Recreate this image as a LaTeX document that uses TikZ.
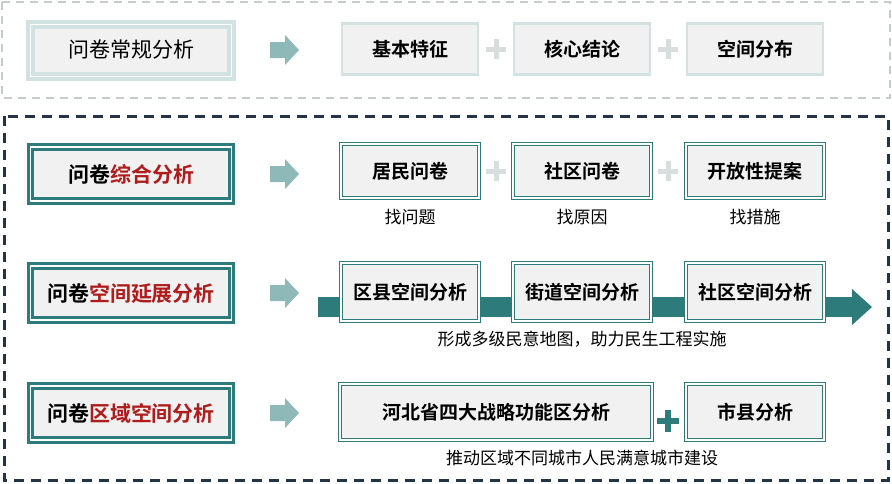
\documentclass[tikz,border=0pt]{standalone}
\usepackage{fontspec}
\setmainfont{Noto Sans CJK SC}
\newfontfamily\cjkb{Noto Sans CJK SC Bold}
\definecolor{teal1}{HTML}{2E7B7B}
\definecolor{lteal}{HTML}{D2E2E1}
\definecolor{boxg}{HTML}{F1F1F1}
\definecolor{navy}{HTML}{243447}
\definecolor{dred}{HTML}{B01C1C}
\definecolor{arrc}{HTML}{8FB8B8}
\definecolor{plusg}{HTML}{D8DEDE}
\begin{document}
\begin{tikzpicture}[x=1pt,y=-1pt,
  lbox/.style={draw=lteal,line width=4pt,fill=boxg,minimum height=52pt,font=\fontsize{21}{21}\selectfont,double=white,double distance=1pt},
  dbox/.style={draw=teal1,line width=3pt,fill=boxg,font=\cjkb\fontsize{21}{21}\selectfont,double=white,double distance=1.2pt},
  rbox/.style={draw=lteal,line width=2.5pt,fill=boxg,minimum width=136pt,minimum height=51pt,font=\cjkb\fontsize{19}{19}\selectfont},
  tbox/.style={draw=teal1,line width=1.2pt,fill=boxg,minimum width=138pt,minimum height=54pt,font=\cjkb\fontsize{19}{19}\selectfont,double=white,double distance=1.2pt},
  sub/.style={font=\fontsize{17}{17}\selectfont},
  plus/.style={line width=5pt,draw=plusg}]
\useasboundingbox (0,0) rectangle (892,483);
\fill[white] (0,0) rectangle (892,483);
\draw[line width=2.5pt,draw=plusg!80!gray,dash pattern=on 8pt off 6pt] (2,2) rectangle (890,98);
\draw[line width=3pt,draw=navy,dash pattern=on 10pt off 7pt] (4,116) rectangle (888,480);
% left boxes
\node[lbox,minimum width=201pt,minimum height=52pt] (l1) at (131,50) {问卷常规分析};
\node[dbox,minimum width=201pt,minimum height=54pt] (l2) at (131,174) {问卷\textcolor{dred}{综合分析}};
\node[dbox,minimum width=201pt,minimum height=54pt] (l3) at (131,293) {问卷\textcolor{dred}{空间延展分析}};
\node[dbox,minimum width=201pt,minimum height=54pt] (l4) at (131,413) {问卷\textcolor{dred}{区域空间分析}};
% arrows
\foreach \y in {50,174,293,413}{
  \fill[arrc] (270,\y-8) -- (285,\y-8) -- (285,\y-15) -- (299,\y) -- (285,\y+15) -- (285,\y+8) -- (270,\y+8) -- cycle;}
% row1
\node[rbox] (a1) at (410,49) {基本特征};
\node[rbox] (a2) at (582,49) {核心结论};
\node[rbox] (a3) at (755,49) {空间分布};
% row2
\node[tbox] (b1) at (410,171) {居民问卷};
\node[tbox] (b2) at (582,171) {社区问卷};
\node[tbox] (b3) at (755,171) {开放性提案};
\node[sub] (s1) at (410,217) {找问题};
\node[sub] (s2) at (582,217) {找原因};
\node[sub] (s3) at (755,217) {找措施};
\foreach \x/\y in {496/49,668/49,496/171,668/171}{
  \draw[plus] (\x-10,\y)--(\x+10,\y) (\x,\y-10)--(\x,\y+10);}
% row3
\fill[teal1] (318,297) rectangle (852,317);
\fill[teal1] (852,289) -- (872,307) -- (852,325) -- cycle;
\node[tbox,minimum height=58pt] (c1b) at (410,292) {区县空间分析};
\node[tbox,minimum height=58pt] (c2b) at (582,292) {街道空间分析};
\node[tbox,minimum height=58pt] (c3b) at (755,292) {社区空间分析};
\node[sub] (s4) at (582,339) {形成多级民意地图，助力民生工程实施};
% row4
\node[tbox,minimum width=312pt,minimum height=56pt] (d1) at (496,412) {河北省四大战略功能区分析};
\node[tbox,minimum height=56pt] (d2) at (755,412) {市县分析};
\draw[line width=6pt,draw=teal1] (657,421)--(679,421) (668,410)--(668,432);
\node[sub] (s5) at (582,458) {推动区域不同城市人民满意城市建设};
\end{tikzpicture}
\end{document}
